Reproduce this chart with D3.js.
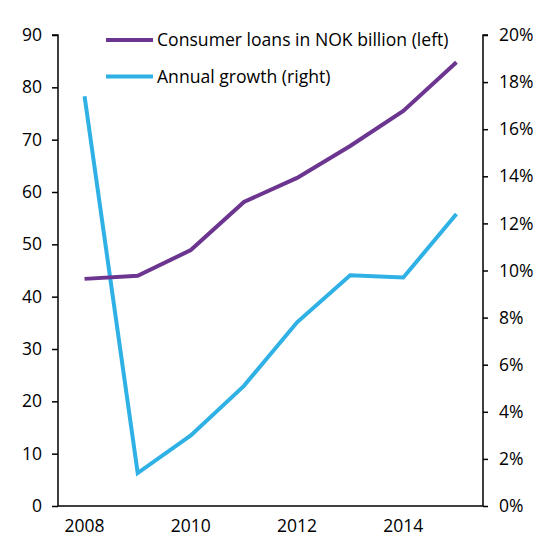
<!DOCTYPE html>
<html>
<head>
<meta charset="utf-8">
<script src="https://cdn.jsdelivr.net/npm/d3@7"></script>
<style>
  body { margin: 0; background: #fff; }
  svg text { font-family: "Open Sans", "DejaVu Sans", sans-serif; fill: #000; }
</style>
</head>
<body>
<svg id="chart" width="560" height="560"></svg>
<script>
// 数据
const years = [2008, 2009, 2010, 2011, 2012, 2013, 2014, 2015];
const loans = [43.4, 44.0, 48.9, 58.1, 62.7, 68.8, 75.5, 84.8];   // 左轴, NOK bn
const growth = [17.4, 1.4, 3.0, 5.1, 7.8, 9.8, 9.7, 12.4];        // 右轴, %
const xTicks = [2008, 2010, 2012, 2014];
const leftTicks = [0, 10, 20, 30, 40, 50, 60, 70, 80, 90];
const rightTicks = [0, 2, 4, 6, 8, 10, 12, 14, 16, 18, 20];
const seriesNames = ["Consumer loans in NOK billion (left)", "Annual growth (right)"];
const colors = ["#6b3590", "#2fb1e5"];

const svg = d3.select("#chart");
const mLeft = 58, mRight = 483, mTop = 35, mBottom = 506;

// 比例尺
const x = d3.scaleBand().domain(years).range([mLeft, mRight]);
const xc = d => x(d) + x.bandwidth() / 2;
const yL = d3.scaleLinear().domain([0, 90]).range([mBottom, mTop]);
const yR = d3.scaleLinear().domain([0, 20]).range([mBottom, mTop]);

// 坐标轴
const axL = svg.append("g").attr("transform", `translate(${mLeft},0)`)
    .call(d3.axisLeft(yL).tickValues(leftTicks).tickSize(6).tickPadding(10));
const axR = svg.append("g").attr("transform", `translate(${mRight},0)`)
    .call(d3.axisRight(yR).tickValues(rightTicks).tickSize(5).tickPadding(11).tickFormat(d => d + "%"));
const axB = svg.append("g").attr("transform", `translate(0,${mBottom})`)
    .call(d3.axisBottom(x).tickValues(xTicks).tickSize(0).tickPadding(14));

[axL, axR, axB].forEach(g => {
    g.selectAll("text").style("font-size", "17.5px").attr("fill", "#000");
    g.selectAll("line").attr("stroke", "#000").attr("stroke-width", 1.5);
    g.select(".domain").attr("stroke", "#000").attr("stroke-width", 1.5);
});
// 底部轴线只画绘图区
axB.select(".domain").attr("d", `M${mLeft},0H${mRight}`);
axL.select(".domain").attr("d", `M-6,${mTop}H0V${mBottom}`);
axR.select(".domain").attr("d", `M5,${mTop}H0V${mBottom}`);

// 折线
const lineL = d3.line().x((d, i) => xc(years[i])).y(d => yL(d));
const lineR = d3.line().x((d, i) => xc(years[i])).y(d => yR(d));

svg.append("path").datum(growth)
    .attr("d", lineR).attr("fill", "none")
    .attr("stroke", colors[1]).attr("stroke-width", 4);
svg.append("path").datum(loans)
    .attr("d", lineL).attr("fill", "none")
    .attr("stroke", colors[0]).attr("stroke-width", 4);

// 图例
const legend = svg.append("g");
seriesNames.forEach((name, i) => {
    const ly = 40 + i * 36.5;
    legend.append("line")
        .attr("x1", 106).attr("x2", 153).attr("y1", ly).attr("y2", ly)
        .attr("stroke", colors[i]).attr("stroke-width", 4);
    legend.append("text")
        .attr("x", 157).attr("y", ly).attr("dy", "0.35em")
        .style("font-size", "17.6px")
        .text(name);
});
</script>
</body>
</html>
